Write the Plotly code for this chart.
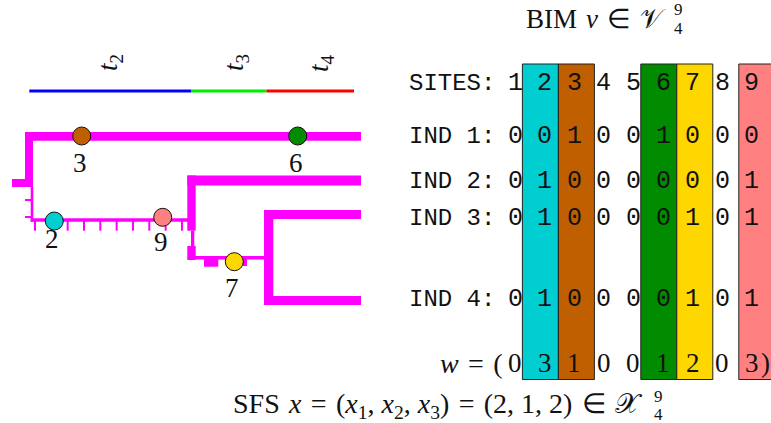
import plotly.graph_objects as go

# ---------------- data ----------------
sites = [1, 2, 3, 4, 5, 6, 7, 8, 9]
ind_labels = ["IND 1:", "IND 2:", "IND 3:", "IND 4:"]
bim = [
    [0, 0, 1, 0, 0, 1, 0, 0, 0],
    [0, 1, 0, 0, 0, 0, 0, 0, 1],
    [0, 1, 0, 0, 0, 0, 1, 0, 1],
    [0, 1, 0, 0, 0, 0, 1, 0, 1],
]
w = [0, 3, 1, 0, 0, 1, 2, 0, 3]
sfs = [2, 1, 2]
seg_sites = [2, 3, 6, 7, 9]
seg_colors = ["#00CED1", "#BF5F00", "#008B00", "#FFD700", "#FF8080"]

# tree: mutation placement (time along branch, branch row) per segregating site
mut_sites = [3, 6, 2, 9, 7]
mut_time = [81.7, 297.7, 54.3, 162.7, 234.3]
mut_row = [136, 136, 221, 217.3, 261.7]
mut_label_row = [163, 163, 239, 242, 288]

# time intervals
t_names = ["2", "3", "4"]
t_bounds = [29.3, 191.5, 266.5, 354]
t_colors = ["#0000FF", "#00EE00", "#FF0000"]

# ---------------- layout helpers ----------------
W, H = 771, 423
col0, dcol = 515, 29.6
col_x = [col0 + dcol * i for i in range(len(sites))]
row_y_sites = 83
row_y_ind = [136, 181, 218, 299]
row_y_w = 363
box_top, box_bot, box_w = 64, 379.5, 36

MAG = "#FF00FF"
shapes = []
annotations = []

def rect(x0, x1, y0, y1, color=MAG, line=None, layer="below"):
    d = dict(type="rect", xref="x", yref="y", x0=x0, x1=x1, y0=y0, y1=y1,
             fillcolor=color, layer=layer)
    d["line"] = line if line else dict(width=0)
    shapes.append(d)

def text(x, y, s, size=25, family="Liberation Serif", xanchor="center",
         angle=0, color="#111111"):
    annotations.append(dict(x=x, y=y, xref="x", yref="y", text=s, showarrow=False,
                            xanchor=xanchor, yanchor="middle", textangle=angle,
                            font=dict(family=family, size=size, color=color)))

# ---------------- BIM colour boxes ----------------
for s, c in zip(seg_sites, seg_colors):
    i = s - 1
    if s + 1 in seg_sites:
        right = (col_x[i] + col_x[i + 1]) / 2 - 1
        left = right - box_w
    elif s - 1 in seg_sites:
        left = (col_x[i - 1] + col_x[i]) / 2 - 1
        right = left + box_w
    else:
        left = col_x[i] - 13
        right = left + box_w
    rect(left, right, box_top, box_bot, color=c,
         line=dict(color="#222222", width=1))

# ---------------- BIM text ----------------
MONO = "Liberation Mono"
text(407, row_y_sites, "SITES:", size=24, family=MONO, xanchor="left")
for x, s in zip(col_x, sites):
    text(x, row_y_sites, str(s), size=25, family=MONO)
for r, (lab, row) in enumerate(zip(ind_labels, bim)):
    text(407, row_y_ind[r], lab, size=24, family=MONO, xanchor="left")
    for x, v in zip(col_x, row):
        text(x, row_y_ind[r], str(v), size=25, family=MONO)

text(504, row_y_w, "<i>w</i>\u2004=\u2004(", size=28, xanchor="right")
for x, v in zip(col_x, w):
    text(x, row_y_w, str(v), size=27)
text(col_x[-1] + 7, row_y_w, ")", size=27, xanchor="left")

# title
text(668, 19, "BIM\u2004<i>v</i>\u2004∈\u2004𝒱", size=27, xanchor="right")
text(672, 9, "9", size=17, xanchor="left")
text(672, 28, "4", size=17, xanchor="left")

# SFS line
sfs_txt = ",\u2005".join(str(v) for v in sfs)
text(645, 405, "SFS\u2004<i>x</i>\u2004=\u2004(<i>x</i><sub>1</sub>,\u2005<i>x</i><sub>2</sub>,\u2005"
     "<i>x</i><sub>3</sub>)\u2004=\u2004(" + sfs_txt + ")\u2004∈\u2004𝒳", size=28, xanchor="right")
text(652, 396, "9", size=17, xanchor="left")
text(652, 414, "4", size=17, xanchor="left")

# ---------------- time bar ----------------
for k in range(3):
    shapes.append(dict(type="line", xref="x", yref="y", x0=t_bounds[k], x1=t_bounds[k + 1],
                       y0=91, y1=91, line=dict(color=t_colors[k], width=3), layer="below"))
t_lab_x = [110, 236, 321]
for x, n in zip(t_lab_x, t_names):
    text(x, 63, "<i>t</i><sub>" + n + "</sub>", size=27, angle=-90)

# ---------------- tree ----------------
rect(25, 361, 132, 140.7)          # IND1 lineage
rect(25, 33, 132, 187)             # root vertical (thick)
rect(12, 33, 179, 187)             # root stub
rect(30.7, 33.3, 187, 221.7)       # root vertical (thin)
rect(25, 31, 199, 201)             # small ticks
rect(25, 31, 216, 218)
rect(30.7, 195, 218.3, 221.7)      # lower horizontal
for k in range(10):
    tx = 35 + 16.33 * k
    rect(tx - 1, tx + 1, 221, 230.7)
rect(187.3, 361, 175.5, 185.5)     # IND2 lineage
rect(187.3, 195.7, 175.5, 230.7)
rect(191, 194.3, 230.7, 246)
rect(187.3, 195.7, 246, 260)
rect(195, 268, 256, 259.5)         # lower branch
rect(204, 218.3, 256, 266.7)
rect(243, 247, 256, 266)
rect(264, 273.3, 210, 305)         # right vertical
rect(264, 361, 210, 219)           # IND3 lineage
rect(264, 361, 296, 305)           # IND4 lineage

color_of = dict(zip(seg_sites, seg_colors))
fig = go.Figure()
fig.add_trace(go.Scatter(
    x=mut_time, y=mut_row, mode="markers",
    marker=dict(size=18, color=[color_of[s] for s in mut_sites],
                line=dict(color="#111111", width=1)),
    hoverinfo="skip", showlegend=False, cliponaxis=False))
for x, y, s in zip(mut_time, mut_label_row, mut_sites):
    text(x - 2, y, str(s), size=27)

fig.update_layout(
    width=W, height=H, autosize=False,
    margin=dict(l=0, r=0, t=0, b=0),
    paper_bgcolor="white", plot_bgcolor="white",
    xaxis=dict(range=[0, W], visible=False, fixedrange=True),
    yaxis=dict(range=[H, 0], visible=False, fixedrange=True),
    shapes=shapes, annotations=annotations, showlegend=False,
)
fig.write_html("out.html", config={"displayModeBar": False},
               post_script="document.body.style.margin='0px';document.body.style.overflow='hidden';")
